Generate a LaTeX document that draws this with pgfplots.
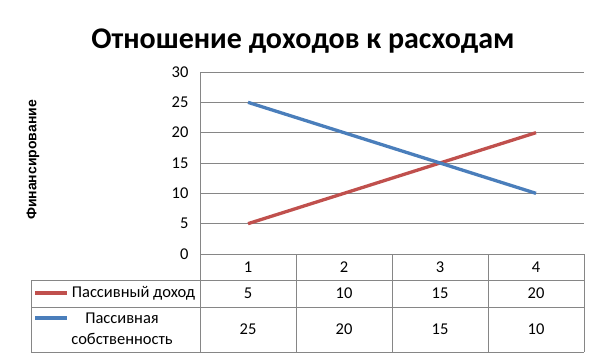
\documentclass[border=0pt]{standalone}
\usepackage{pgfplots}
\pgfplotsset{compat=1.18}
\usepackage{fontspec}
\setmainfont{Carlito}
\newfontfamily\arialfont{Liberation Sans}
\definecolor{xred}{RGB}{192,80,77}
\definecolor{xblue}{RGB}{74,126,187}
\definecolor{xgrid}{RGB}{134,134,134}
\newcommand{\tf}{\fontsize{16.5}{18}\selectfont}
\begin{document}
\begin{tikzpicture}[x=1pt,y=1pt]
\path[use as bounding box] (0,0) rectangle (601,360);
\begin{axis}[
  at={(200pt,106pt)}, anchor=south west,
  scale only axis, width=384pt, height=182pt,
  xmin=0.5, xmax=4.5, ymin=0, ymax=30,
  ytick={0,5,...,30},
  xtick=\empty,
  ymajorgrids, grid style={xgrid, line width=0.9pt},
  axis x line*=bottom, axis y line*=left,
  axis line style={xgrid, line width=0.9pt},
  major tick length=0pt,
  yticklabel style={font=\tf, xshift=-8pt},
  /pgf/number format/assume math mode=true,
  clip=false,
]
\addplot[xred, line width=3.3pt] coordinates {(1,5)(2,10)(3,15)(4,20)};
\addplot[xblue, line width=3.3pt] coordinates {(1,25)(2,20)(3,15)(4,10)};
\end{axis}
% data table grid
\begin{scope}[xgrid, line width=0.9pt]
\draw (31,80) -- (584,80);
\draw (31,53) -- (584,53);
\draw (31,8) -- (584,8);
\draw (31,8) -- (31,80);
\draw (200,8) -- (200,106);
\foreach \x in {296,392,488,584} \draw (\x,8) -- (\x,106);
\end{scope}
% table text
\foreach \x/\a/\b/\c in {248/1/5/25, 344/2/10/20, 440/3/15/15, 536/4/20/10} {
  \node[font=\tf] at (\x,93) {\a};
  \node[font=\tf] at (\x,67) {\b};
  \node[font=\tf] at (\x,30.5) {\c};
}
\draw[xred, line width=3.3pt] (35,67) -- (67,67);
\draw[xblue, line width=3.3pt] (35,42) -- (67,42);
\node[font=\tf] at (133.5,67) {Пассивный доход};
\node[font=\tf] at (122,42) {Пассивная};
\node[font=\tf] at (122,21) {собственность};
% title
\node[font=\fontsize{30}{32}\selectfont\bfseries, anchor=base] at (303,312) {Отношение доходов к расходам};
% y label
\node[font=\arialfont\bfseries\fontsize{14}{16}\selectfont, rotate=90] at (33,200) {Финансирование};
\end{tikzpicture}
\end{document}
